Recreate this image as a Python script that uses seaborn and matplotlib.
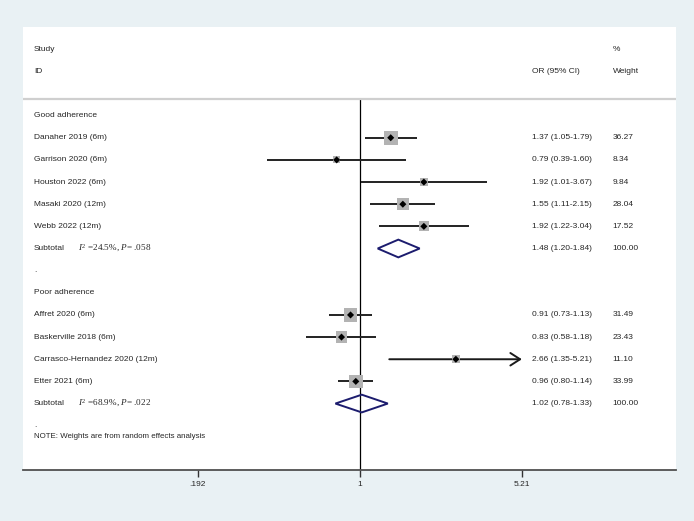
# coding:utf-8
import numpy as np
import pandas as pd
import seaborn as sns
import matplotlib.pyplot as plt
import matplotlib.transforms as mtransforms
from matplotlib.patches import Polygon

# ---- data ----
groups = ["Good adherence", "Poor adherence"]

good_study = ["Danaher 2019 (6m)", "Garrison 2020 (6m)", "Houston 2022 (6m)",
              "Masaki 2020 (12m)", "Webb 2022 (12m)"]
good_or = [1.37, 0.79, 1.92, 1.55, 1.92]
good_lo = [1.05, 0.39, 1.01, 1.11, 1.22]
good_hi = [1.79, 1.60, 3.67, 2.15, 3.04]
good_w = [36.27, 8.34, 9.84, 28.04, 17.52]

poor_study = ["Affret 2020 (6m)", "Baskerville 2018 (6m)",
              "Carrasco-Hernandez 2020 (12m)", "Etter 2021 (6m)"]
poor_or = [0.91, 0.83, 2.66, 0.96]
poor_lo = [0.73, 0.58, 1.35, 0.80]
poor_hi = [1.13, 1.18, 5.21, 1.14]
poor_w = [31.49, 23.43, 11.10, 33.99]

sub_or = [1.48, 1.02]
sub_lo = [1.20, 0.78]
sub_hi = [1.84, 1.33]
sub_i2 = ["24.5%", "68.9%"]
sub_p = [".058", ".022"]

xticks = [0.192, 1, 5.21]
xticklabels = [".192", "1", "5.21"]

# build one row table (row index = vertical slot)
rows = []
r = 0
for g, (st, o, lo, hi, w) in enumerate([(good_study, good_or, good_lo, good_hi, good_w),
                                         (poor_study, poor_or, poor_lo, poor_hi, poor_w)]):
    rows.append(dict(label=groups[g], row=r, kind="head"))
    r += 1
    for i in range(len(st)):
        rows.append(dict(label=st[i], row=r, kind="study", est=o[i], lo=lo[i], hi=hi[i], w=w[i]))
        r += 1
    rows.append(dict(label="Subtotal", row=r, kind="sub", est=sub_or[g], lo=sub_lo[g],
                     hi=sub_hi[g], w=100.0, i2=sub_i2[g], p=sub_p[g]))
    r += 1
    rows.append(dict(label=".", row=r, kind="gap"))
    r += 1
df = pd.DataFrame(rows)
study = df[df.kind == "study"].copy()
subs = df[df.kind == "sub"]

# ---- style ----
sns.set_style("white")
plt.rcParams['font.family'] = ['Liberation Sans', 'DejaVu Sans']
plt.rcParams['mathtext.fontset'] = 'custom'
plt.rcParams['mathtext.it'] = 'Liberation Serif:italic'
plt.rcParams['mathtext.rm'] = 'Liberation Serif'
bg = '#e9f1f4'
fs = 6

fig = plt.figure(figsize=(6.94, 5.21), dpi=100, facecolor=bg)
ax = fig.add_axes([23/694, 51/521, 653/694, 443/521])
ax.set_facecolor('white')
ax.set_xscale('log')
ax.set_xlim(np.exp(-3.43), np.exp(3.22))
ax.set_ylim(16, -4)

# CI lines (arrow where the CI reaches the axis limit)
xmax = max(xticks)
norm = study[study.hi < xmax]
ax.hlines(norm.row, norm.lo, norm.hi, color='#222222', lw=1.4, zorder=2)
for _, s in study[study.hi >= xmax].iterrows():
    ax.annotate("", xy=(s.hi, s.row), xytext=(s.lo, s.row),
                arrowprops=dict(arrowstyle='->,head_length=0.7,head_width=0.45',
                                lw=1.4, color='#1a1a1a', shrinkA=0, shrinkB=0), zorder=2)

# weight boxes, area proportional to weight
sns.scatterplot(data=study, x='est', y='row', s=study.w.values * 2.9, marker='s',
                color='#b3b3b3', edgecolor='none', linewidth=0, legend=False, ax=ax, zorder=3)
sns.scatterplot(data=study, x='est', y='row', s=13, marker='D', color='black',
                edgecolor='none', legend=False, ax=ax, zorder=4)

# pooled diamonds
for _, s in subs.iterrows():
    ax.add_patch(Polygon([(s.lo, s.row), (s.est, s.row - 0.4), (s.hi, s.row), (s.est, s.row + 0.4)],
                         closed=True, fill=False, edgecolor='#1c1c6e', lw=1.4, zorder=3))

# null line and header separator
ax.vlines(1, -0.77, 16, color='black', lw=0.9, zorder=1)
ax.axhline(-0.77, color='#cfcfcf', lw=1.6, zorder=1)

# text columns
tr = mtransforms.blended_transform_factory(ax.transAxes, ax.transData)
xl, xo, xw = 0.0168, 0.7795, 0.903
ax.text(xl, -3, "Study", transform=tr, fontsize=fs, va='center')
ax.text(xl, -2, "ID", transform=tr, fontsize=fs, va='center')
ax.text(xo, -2, "OR (95% CI)", transform=tr, fontsize=fs, va='center')
ax.text(xw, -3, "%", transform=tr, fontsize=fs, va='center')
ax.text(xw, -2, "Weight", transform=tr, fontsize=fs, va='center')

for _, s in df.iterrows():
    if s.kind == "sub":
        ax.text(xl, s.row, "Subtotal", transform=tr, fontsize=fs, va='center')
        ax.text(xl + 0.068, s.row, r"$I^2$ =" + s.i2 + r", $P$= " + s.p, transform=tr,
                fontsize=fs + 0.6, va='center', family='Liberation Serif')
    else:
        ax.text(xl, s.row, s.label, transform=tr, fontsize=fs, va='center')
    if s.kind in ("study", "sub"):
        ax.text(xo, s.row, "%.2f (%.2f-%.2f)" % (s.est, s.lo, s.hi), transform=tr,
                fontsize=fs, va='center')
        ax.text(xw, s.row, "%.2f" % s.w, transform=tr, fontsize=fs, va='center')
ax.text(xl, 14.5, "NOTE: Weights are from random effects analysis", transform=tr,
        fontsize=fs - 0.3, va='center')

# axis
for sp in ['left', 'right', 'top']:
    ax.spines[sp].set_visible(False)
ax.spines['bottom'].set_color('#505050')
ax.spines['bottom'].set_linewidth(1.3)
ax.set_xticks(xticks)
ax.set_xticklabels(xticklabels)
ax.minorticks_off()
ax.set_yticks([])
ax.tick_params(axis='x', length=5, width=1, color='#333333', labelsize=fs, pad=3, bottom=True)
ax.set_xlabel('')
ax.set_ylabel('')

fig.savefig('out.png', dpi=100, facecolor=bg)
